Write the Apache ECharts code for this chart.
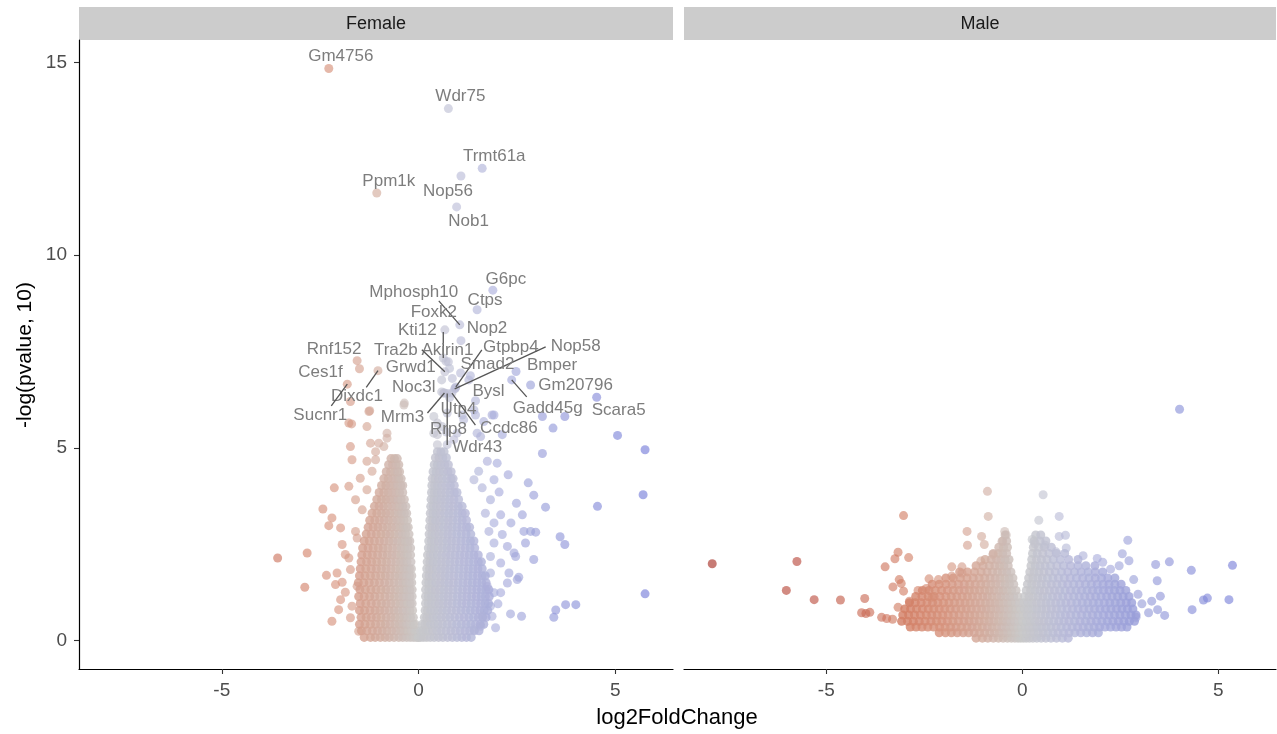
<!DOCTYPE html>
<html><head><meta charset="utf-8">
<script src="https://cdn.jsdelivr.net/npm/echarts@6/dist/echarts.min.js"></script>
<style>html,body{margin:0;padding:0;background:#fff}#c{width:1277px;height:734px}</style>
</head><body><div id="c"></div><script>
// ---------------- DATA ----------------
const panels = ['Female', 'Male'];
const xTicks = [-5, 0, 5];
const yTicks = [0, 5, 10, 15];
const xRange = [-8.63, 6.47];
const yRange = [-0.74, 15.58];
const xTitle = 'log2FoldChange';
const yTitle = '-log(pvalue, 10)';

// labelled genes (Female panel)
const femaleGenes = ['Gm4756','Wdr75','Trmt61a','Nop56','Ppm1k','Nob1','G6pc','Ctps','Mphosph10','Foxk2','Nop2','Kti12','Akirin1','Tra2b','Gtpbp4','Nop58','Smad2','Bmper','Gm20796','Gadd45g','Bysl','Scara5','Grwd1','Noc3l','Utp4','Mrm3','Ccdc86','Wdr43','Rrp8','Dixdc1','Sucnr1','Ces1f','Rnf152'];
const femaleGeneX = [-2.28,0.76,1.62,1.08,-1.06,0.97,1.89,1.49,1.05,0.67,1.08,0.63,0.76,0.67,0.95,0.92,1.32,2.48,2.85,2.37,1.45,4.53,0.59,0.59,0.79,0.66,0.85,0.73,0.71,-1.03,-1.81,-1.50,-1.56];
const femaleGeneY = [14.84,13.80,12.25,12.05,11.61,11.25,9.09,8.58,8.19,8.06,7.78,7.33,7.23,6.97,6.58,6.53,6.87,6.98,6.63,6.76,6.22,6.31,6.76,6.45,6.30,6.42,6.42,6.41,5.41,7.00,6.65,7.05,7.26];

// isolated / sparse points (Female)
const femaleSparse = [
[-3.58,2.14],[-2.83,2.27],[-2.89,1.38],[-2.20,0.50],[-2.43,3.41],[-2.14,3.96],[-1.77,4.00],[-1.73,5.03],[-1.69,4.69],[-1.48,4.21],
[-1.94,2.49],[-2.34,1.69],[-2.20,3.18],[-2.28,2.98],[-1.60,3.65],[-1.98,2.92],[-1.86,2.23],[-2.11,1.45],[-1.98,1.06],[-2.03,0.80],
[-1.73,0.59],[-1.52,0.24],[-1.69,0.89],[-1.31,5.55],[-1.26,5.94],[-0.80,5.25],[-1.01,5.12],[-1.09,4.69],[-1.73,6.20],[-1.24,5.96],
[-1.70,5.62],[-0.36,6.16],[-2.07,1.75],[-1.94,1.51],[-1.86,1.25],[-1.56,1.41],[-1.73,1.84],[-1.77,2.14],[-1.56,2.66],[-1.60,2.83],
[-1.43,3.39],[-1.31,3.91],[-1.18,4.39],[-1.31,4.65],[-1.09,4.90],[-0.88,5.03],[-1.22,5.12],[-0.80,5.38],[-0.37,6.11],[-1.77,5.64],
[5.76,4.95],[5.71,3.78],[4.55,3.48],[5.76,1.21],[3.74,0.93],[4.00,0.93],[3.49,0.79],[3.44,0.60],[2.34,0.69],[2.62,0.63],
[3.60,2.69],[3.72,2.49],[3.23,3.46],[2.93,3.77],[2.79,4.09],[2.28,4.30],[2.00,4.60],[5.06,5.32],[3.42,5.51],[3.15,5.81],
[3.72,5.81],[2.49,3.56],[2.64,3.26],[2.68,2.83],[2.98,2.81],[2.72,2.53],[2.47,2.18],[2.93,2.10],[2.30,1.75],[2.55,1.64],
[2.09,1.24],[1.87,0.63],[1.96,0.33],[1.92,5.85],[1.53,4.39],[1.75,4.65],[1.41,4.17],[1.92,4.17],[1.62,3.96],[1.83,3.65],
[2.09,3.26],[1.92,3.05],[1.79,2.83],[2.13,2.75],[1.92,2.53],[2.26,2.44],[1.83,2.18],[2.09,2.01],[1.83,1.75],[2.26,1.49],
[1.92,1.24],[1.83,0.89],[1.62,0.63],[1.41,0.28],[1.58,0.37],[2.43,2.27],[2.85,2.83],[2.51,1.58],[1.49,5.38],[1.41,5.98],
[1.87,5.85],[1.11,5.85],[0.98,5.38],[0.73,5.08],[0.48,5.08],[0.39,5.38],[0.60,5.55],[0.39,5.81],[0.86,6.80],[0.64,6.42],
[0.94,6.55],[1.07,6.94],[0.70,7.24],[0.79,7.06],[1.28,6.76],[0.73,5.90],[0.48,5.64],[1.15,5.73],[1.45,5.85],[0.48,5.34],
[0.90,5.21],[1.58,5.29],[2.13,5.34],[1.66,5.68],[3.15,4.85],[2.35,3.05],[2.05,3.85],[1.70,3.30],[1.75,1.40],[2.02,0.95]
];

// dense cloud, Female, red lobe: [y, x, x, ...]
const femaleLeftRows = [
[0.08,-1.38,-1.22,-1.1,-0.97,-0.85,-0.74,-0.62,-0.5,-0.4,-0.3,-0.21,-0.13,-0.06,-0.01],
[0.25,-1.45,-1.31,-1.17,-1.04,-0.92,-0.8,-0.68,-0.57,-0.46,-0.36,-0.27,-0.18,-0.1,-0.04],
[0.42,-1.5,-1.36,-1.22,-1.09,-0.96,-0.84,-0.72,-0.6,-0.49,-0.39,-0.3,-0.21,-0.13,-0.08],
[0.6,-1.46,-1.33,-1.2,-1.07,-0.95,-0.82,-0.7,-0.59,-0.48,-0.38,-0.29,-0.2,-0.13],
[0.78,-1.5,-1.37,-1.23,-1.1,-0.98,-0.86,-0.74,-0.62,-0.51,-0.4,-0.3,-0.22,-0.15],
[0.96,-1.48,-1.34,-1.2,-1.07,-0.94,-0.82,-0.7,-0.58,-0.47,-0.37,-0.28,-0.21,-0.16],
[1.14,-1.52,-1.38,-1.24,-1.11,-0.98,-0.85,-0.73,-0.61,-0.5,-0.39,-0.3,-0.22,-0.16],
[1.32,-1.49,-1.35,-1.21,-1.08,-0.95,-0.83,-0.71,-0.59,-0.48,-0.38,-0.29,-0.22,-0.16],
[1.5,-1.53,-1.39,-1.25,-1.12,-0.99,-0.86,-0.74,-0.62,-0.5,-0.4,-0.31,-0.23,-0.17],
[1.68,-1.5,-1.36,-1.22,-1.09,-0.96,-0.84,-0.72,-0.6,-0.49,-0.39,-0.3,-0.23,-0.17],
[1.86,-1.48,-1.34,-1.2,-1.07,-0.94,-0.82,-0.7,-0.58,-0.47,-0.37,-0.29,-0.23,-0.18],
[2.04,-1.46,-1.32,-1.19,-1.06,-0.93,-0.81,-0.69,-0.57,-0.46,-0.37,-0.29,-0.19],
[2.22,-1.44,-1.3,-1.17,-1.04,-0.91,-0.79,-0.67,-0.56,-0.45,-0.36,-0.28,-0.2],
[2.4,-1.42,-1.28,-1.15,-1.02,-0.9,-0.78,-0.66,-0.55,-0.44,-0.35,-0.27,-0.2],
[2.58,-1.38,-1.25,-1.12,-0.99,-0.87,-0.75,-0.64,-0.53,-0.43,-0.34,-0.27,-0.22],
[2.76,-1.33,-1.2,-1.07,-0.95,-0.83,-0.72,-0.61,-0.5,-0.41,-0.33,-0.24],
[2.94,-1.28,-1.15,-1.03,-0.91,-0.79,-0.68,-0.57,-0.47,-0.38,-0.31,-0.26],
[3.12,-1.24,-1.11,-0.99,-0.87,-0.76,-0.65,-0.54,-0.45,-0.37,-0.28],
[3.3,-1.18,-1.06,-0.94,-0.83,-0.72,-0.61,-0.51,-0.43,-0.36,-0.3],
[3.48,-1.12,-1.0,-0.89,-0.78,-0.67,-0.57,-0.48,-0.4,-0.32],
[3.66,-1.06,-0.94,-0.83,-0.72,-0.62,-0.52,-0.44,-0.36],
[3.84,-1.0,-0.88,-0.77,-0.67,-0.57,-0.48,-0.4],
[4.02,-0.94,-0.83,-0.72,-0.62,-0.53,-0.45,-0.4],
[4.2,-0.88,-0.77,-0.67,-0.57,-0.5,-0.44],
[4.38,-0.82,-0.71,-0.61,-0.53,-0.48],
[4.56,-0.76,-0.66,-0.57,-0.5],
[4.72,-0.7,-0.61,-0.54]
];

// dense cloud, Female, blue lobe
const femaleRightRows = [
[0.08,0.01,0.06,0.13,0.21,0.3,0.4,0.51,0.62,0.74,0.86,0.98,1.1,1.22,1.34],
[0.25,0.05,0.11,0.18,0.26,0.36,0.47,0.58,0.7,0.82,0.94,1.06,1.18,1.3,1.42,1.54],
[0.42,0.1,0.16,0.23,0.31,0.4,0.5,0.61,0.73,0.85,0.97,1.09,1.21,1.33,1.45,1.57,1.66],
[0.6,0.15,0.21,0.28,0.37,0.47,0.58,0.69,0.8,0.92,1.04,1.16,1.28,1.4,1.52,1.63,1.72],
[0.78,0.17,0.23,0.31,0.4,0.5,0.61,0.72,0.84,0.96,1.08,1.2,1.32,1.44,1.56,1.67,1.76],
[0.96,0.18,0.25,0.33,0.42,0.52,0.63,0.74,0.86,0.98,1.1,1.22,1.34,1.46,1.58,1.69,1.78],
[1.14,0.18,0.25,0.33,0.42,0.53,0.64,0.75,0.87,0.99,1.11,1.23,1.35,1.47,1.59,1.7,1.8],
[1.32,0.18,0.26,0.34,0.43,0.54,0.65,0.76,0.88,1.0,1.12,1.24,1.36,1.48,1.6,1.71,1.79],
[1.5,0.19,0.26,0.34,0.44,0.55,0.66,0.77,0.89,1.01,1.13,1.25,1.37,1.49,1.61,1.72],
[1.68,0.2,0.27,0.35,0.45,0.56,0.67,0.78,0.9,1.02,1.14,1.26,1.38,1.5,1.62,1.7],
[1.86,0.21,0.28,0.36,0.46,0.57,0.68,0.79,0.91,1.03,1.15,1.27,1.39,1.51,1.62],
[2.04,0.22,0.29,0.37,0.47,0.58,0.69,0.8,0.92,1.04,1.16,1.28,1.4,1.52,1.6],
[2.22,0.23,0.3,0.38,0.48,0.59,0.7,0.81,0.93,1.05,1.17,1.29,1.41,1.52],
[2.4,0.25,0.32,0.4,0.5,0.61,0.72,0.83,0.95,1.07,1.19,1.31,1.43],
[2.58,0.26,0.33,0.41,0.51,0.62,0.73,0.84,0.96,1.08,1.2,1.32,1.41],
[2.76,0.27,0.34,0.42,0.52,0.63,0.74,0.85,0.97,1.09,1.21,1.33],
[2.94,0.28,0.35,0.43,0.53,0.64,0.75,0.86,0.98,1.1,1.22,1.3],
[3.12,0.29,0.36,0.44,0.54,0.65,0.76,0.87,0.99,1.11,1.22],
[3.3,0.3,0.37,0.45,0.55,0.66,0.77,0.88,1.0,1.11,1.19],
[3.48,0.31,0.38,0.46,0.56,0.67,0.78,0.89,1.01,1.11],
[3.66,0.32,0.39,0.47,0.57,0.68,0.79,0.9,1.02],
[3.84,0.33,0.4,0.48,0.58,0.69,0.8,0.91,0.98],
[4.02,0.34,0.41,0.49,0.59,0.7,0.81,0.91],
[4.2,0.35,0.42,0.51,0.61,0.72,0.83,0.88],
[4.38,0.37,0.45,0.54,0.64,0.75,0.83],
[4.56,0.4,0.48,0.57,0.67,0.76],
[4.74,0.43,0.52,0.62,0.71],
[4.9,0.48,0.57,0.65]
];

// isolated / sparse points (Male)
const maleSparse = [
[-7.91,1.99],[-5.75,2.05],[-6.02,1.30],[-5.31,1.06],[-4.64,1.05],[-4.02,1.09],[-4.10,0.72],[-3.99,0.70],[-3.89,0.73],[-3.59,0.60],
[-3.46,0.57],[-3.31,0.55],[-3.03,3.24],[-3.17,2.29],[-3.25,2.12],[-2.90,2.15],[-3.50,1.91],[-3.14,1.58],[-3.09,1.48],[-3.30,1.39],
[-3.03,1.28],[-3.17,0.86],[-2.88,1.02],[-2.66,1.30],[-2.38,1.60],[-2.14,1.58],[-1.80,1.91],[-1.54,1.91],[-1.41,2.83],[-1.40,2.47],
[-0.89,3.87],[-0.87,3.22],[-1.04,2.70],[-0.97,2.49],[-0.45,2.83],[-0.52,2.57],[-0.41,2.74],[-0.75,2.23],[-1.06,2.06],[-1.80,1.67],
[-1.54,1.75],[0.53,3.78],[0.42,3.12],[0.94,3.22],[0.25,2.62],[0.32,2.51],[0.58,2.47],[0.94,2.70],[1.10,2.73],[1.12,2.40],
[0.86,2.30],[2.69,2.60],[1.91,2.13],[2.05,2.03],[2.55,2.25],[2.47,1.94],[2.72,2.07],[3.40,1.97],[3.75,2.04],[4.31,1.82],
[5.36,1.95],[4.01,6.00],[3.44,1.55],[3.52,1.15],[3.30,1.02],[3.45,0.80],[3.63,0.65],[3.22,0.72],[4.33,0.80],[4.62,1.05],
[4.72,1.10],[5.27,1.06],[2.84,1.58],[2.95,1.20],[3.05,0.95],[2.90,0.60],[-2.45,1.35],[-2.30,1.12],[1.55,2.20],[2.25,1.85]
];

// dense cloud, Male: [y, x, x, ...]
const maleRows = [
[0.06,-1.18,-1.02,-0.88,-0.74,-0.61,-0.49,-0.38,-0.28,-0.19,-0.11,-0.04,0.03,0.1,0.18,0.27,0.37,0.48,0.6,0.73,0.87,1.02,1.17],
[0.2,-2.12,-1.96,-1.81,-1.66,-1.51,-1.37,-1.23,-1.09,-0.96,-0.83,-0.71,-0.59,-0.48,-0.37,-0.27,-0.17,-0.08,0.01,0.1,0.2,0.3,0.41,0.53,0.65,0.78,0.91,1.05,1.19,1.34,1.49,1.64,1.79,1.94],
[0.35,-2.86,-2.71,-2.56,-2.41,-2.26,-2.11,-1.97,-1.83,-1.69,-1.55,-1.41,-1.28,-1.15,-1.02,-0.89,-0.77,-0.65,-0.53,-0.42,-0.31,-0.21,-0.11,-0.02,0.07,0.17,0.27,0.38,0.49,0.61,0.73,0.86,0.99,1.13,1.27,1.41,1.55,1.69,1.83,1.97,2.11,2.25,2.39,2.53,2.67],
[0.5,-3.08,-2.93,-2.78,-2.63,-2.48,-2.33,-2.19,-2.05,-1.91,-1.77,-1.63,-1.49,-1.36,-1.23,-1.1,-0.97,-0.85,-0.73,-0.61,-0.5,-0.39,-0.29,-0.19,-0.09,0.01,0.11,0.21,0.32,0.43,0.55,0.67,0.8,0.93,1.06,1.19,1.33,1.47,1.61,1.75,1.89,2.03,2.17,2.31,2.45,2.59,2.73,2.86],
[0.66,-3.05,-2.9,-2.75,-2.6,-2.45,-2.31,-2.17,-2.03,-1.89,-1.75,-1.61,-1.47,-1.34,-1.21,-1.08,-0.95,-0.83,-0.71,-0.59,-0.48,-0.37,-0.27,-0.17,-0.07,0.03,0.13,0.24,0.35,0.47,0.59,0.71,0.84,0.97,1.1,1.23,1.37,1.51,1.65,1.79,1.93,2.07,2.21,2.35,2.49,2.63,2.77,2.9],
[0.82,-3.0,-2.85,-2.7,-2.55,-2.4,-2.26,-2.12,-1.98,-1.84,-1.7,-1.56,-1.43,-1.3,-1.17,-1.04,-0.92,-0.8,-0.68,-0.57,-0.46,-0.35,-0.25,-0.15,-0.05,0.05,0.15,0.26,0.37,0.49,0.61,0.74,0.87,1.0,1.14,1.28,1.42,1.56,1.7,1.84,1.98,2.12,2.26,2.4,2.54,2.68,2.82],
[0.98,-2.88,-2.73,-2.58,-2.43,-2.29,-2.15,-2.01,-1.87,-1.73,-1.59,-1.46,-1.33,-1.2,-1.07,-0.94,-0.82,-0.7,-0.59,-0.48,-0.37,-0.27,-0.17,-0.07,0.04,0.14,0.25,0.36,0.48,0.6,0.72,0.85,0.98,1.11,1.25,1.39,1.53,1.67,1.81,1.95,2.09,2.23,2.37,2.51,2.65,2.79],
[1.14,-2.72,-2.56,-2.4,-2.25,-2.1,-1.95,-1.81,-1.67,-1.53,-1.4,-1.27,-1.14,-1.01,-0.89,-0.77,-0.65,-0.54,-0.43,-0.32,-0.22,-0.12,0.06,0.17,0.28,0.4,0.52,0.64,0.77,0.9,1.03,1.17,1.31,1.45,1.59,1.73,1.87,2.01,2.15,2.29,2.43,2.57,2.72],
[1.3,-2.55,-2.38,-2.22,-2.06,-1.91,-1.76,-1.62,-1.48,-1.35,-1.22,-1.09,-0.96,-0.84,-0.72,-0.6,-0.49,-0.38,-0.27,-0.16,0.1,0.21,0.32,0.44,0.56,0.69,0.82,0.95,1.09,1.23,1.37,1.51,1.65,1.79,1.93,2.07,2.21,2.35,2.49,2.64],
[1.46,-2.3,-2.12,-1.95,-1.79,-1.63,-1.48,-1.34,-1.2,-1.06,-0.93,-0.8,-0.68,-0.56,-0.44,-0.33,-0.22,0.13,0.24,0.36,0.48,0.61,0.74,0.88,1.02,1.16,1.31,1.46,1.61,1.76,1.91,2.06,2.21,2.36,2.52],
[1.62,-1.95,-1.76,-1.58,-1.41,-1.25,-1.1,-0.96,-0.82,-0.69,-0.57,-0.45,-0.34,-0.24,0.16,0.27,0.39,0.51,0.64,0.78,0.92,1.07,1.22,1.38,1.54,1.7,1.86,2.02,2.18,2.36],
[1.78,-1.6,-1.4,-1.22,-1.05,-0.9,-0.76,-0.63,-0.51,-0.4,-0.29,0.19,0.3,0.42,0.55,0.69,0.84,1.0,1.16,1.33,1.5,1.68,1.86,2.05],
[1.94,-1.18,-1.0,-0.84,-0.7,-0.58,-0.47,-0.36,0.22,0.33,0.45,0.58,0.72,0.88,1.05,1.23,1.42,1.62,1.85],
[2.1,-0.95,-0.79,-0.66,-0.55,-0.44,-0.34,0.24,0.36,0.49,0.63,0.79,0.97,1.18,1.42],
[2.26,-0.74,-0.61,-0.5,-0.4,0.26,0.38,0.52,0.68,0.87,1.08],
[2.42,-0.6,-0.48,-0.38,0.28,0.41,0.56,0.74],
[2.58,-0.5,-0.4,0.3,0.45,0.6],
[2.74,-0.44,0.34,0.47]
];

// ---------------- STYLE / LAYOUT ----------------
const FONT = '"Liberation Sans", Arial, Helvetica, sans-serif';
const colorStops = [[-7.9,[165,42,32]],[-5,[191,80,64]],[-3,[210,126,100]],[-2,[214,146,124]],[-1,[210,170,156]],[0,[200,200,200]],[1,[185,187,215]],[2,[167,171,219]],[3.5,[143,149,216]],[5.8,[113,121,216]]];
function colorFor(x) {
  if (x <= colorStops[0][0]) return 'rgb(' + colorStops[0][1].join(',') + ')';
  for (let i = 1; i < colorStops.length; i++) {
    const a = colorStops[i - 1], b = colorStops[i];
    if (x <= b[0]) {
      const t = (x - a[0]) / (b[0] - a[0]);
      const c = a[1].map((v, k) => Math.round(v + (b[1][k] - v) * t));
      return 'rgb(' + c.join(',') + ')';
    }
  }
  return 'rgb(' + colorStops[colorStops.length - 1][1].join(',') + ')';
}
// label placement (pixel offsets from the point): [dx, dy, segEndDx, segEndDy]
const labelLayout = {
  Gm4756:[12,-12], Wdr75:[12,-12], Trmt61a:[12,-12], Nop56:[-13,15], Ppm1k:[12,-12], Nob1:[12,14],
  G6pc:[13,-11], Ctps:[8,-9], Mphosph10:[-46,-33,-21,-24], Foxk2:[-11,-18], Nop2:[26,-12],
  Kti12:[-26,-28,0,-26], Akirin1:[-1,-12], Tra2b:[-49,-22,-23,-22], Gtpbp4:[55,-40,26,-37],
  Nop58:[121,-42,91,-42], Smad2:[17,-11], Bmper:[36,-6], Gm20796:[45,0], Gadd45g:[36,28,15,17],
  Bysl:[13,-9], Scara5:[22,13], Grwd1:[-31,-13], Noc3l:[-28,-5], Utp4:[9,12], Mrm3:[-42,24,-17,20],
  Ccdc86:[57,35,23.5,32], Wdr43:[30,54,0,51.5], Rrp8:[2,-3], Dixdc1:[-21,26,-11.7,16.6],
  Sucnr1:[-27,31,-16,21.7], Ces1f:[-39,4], Rnf152:[-23,-11]
};

function rowsToPoints(rows) {
  const out = [];
  rows.forEach(r => { for (let i = 1; i < r.length; i++) out.push([r[i], r[0]]); });
  return out;
}
const femaleCloud = rowsToPoints(femaleLeftRows).concat(rowsToPoints(femaleRightRows));
const femaleSingles = femaleSparse.concat(femaleGenes.map((g, i) => [femaleGeneX[i], femaleGeneY[i]]));
const maleCloud = rowsToPoints(maleRows);

const grids = [
  {left: 79, top: 40, width: 594, height: 629},
  {left: 684, top: 40, width: 592, height: 629}
];

const chart = echarts.init(document.getElementById('c'), null, {renderer: 'canvas'});
function scatter(gi, data, opacity) {
  return {
    type: 'scatter', xAxisIndex: gi, yAxisIndex: gi, data: data,
    symbolSize: 9, silent: true, progressive: 0, animation: false,
    itemStyle: {color: p => colorFor(p.value[0]), opacity: opacity}
  };
}
chart.setOption({
  animation: false,
  backgroundColor: '#ffffff',
  grid: grids,
  xAxis: grids.map((g, i) => ({
    gridIndex: i, type: 'value', min: xRange[0], max: xRange[1],
    axisLine: {show: true, onZero: false, lineStyle: {color: '#000', width: 1.2}},
    axisTick: {show: true, length: 5, customValues: xTicks, lineStyle: {color: '#333', width: 1.1}},
    axisLabel: {customValues: xTicks, color: '#4d4d4d', fontSize: 19, fontFamily: FONT, margin: 12},
    splitLine: {show: false}
  })),
  yAxis: grids.map((g, i) => ({
    gridIndex: i, type: 'value', min: yRange[0], max: yRange[1],
    axisLine: {show: i === 0, onZero: false, lineStyle: {color: '#000', width: 1.2}},
    axisTick: {show: i === 0, length: 5, customValues: yTicks, lineStyle: {color: '#333', width: 1.1}},
    axisLabel: {show: i === 0, customValues: yTicks, color: '#4d4d4d', fontSize: 19, fontFamily: FONT, margin: 12},
    splitLine: {show: false}
  })),
  graphic: [
    ...grids.map((g, i) => ({
      type: 'rect', shape: {x: g.left, y: 7, width: g.width, height: 33}, style: {fill: '#cccccc'}, silent: true
    })),
    ...grids.map((g, i) => ({
      type: 'text', x: g.left + g.width / 2, y: 24,
      style: {text: panels[i], fill: '#1a1a1a', font: '18px ' + FONT, align: 'center', verticalAlign: 'middle'}, silent: true
    })),
    {type: 'text', x: 677, y: 718, style: {text: xTitle, fill: '#000', font: '22px ' + FONT, align: 'center', verticalAlign: 'middle'}},
    {type: 'text', x: 25, y: 355, rotation: Math.PI / 2, style: {text: yTitle, fill: '#000', font: '21px ' + FONT, align: 'center', verticalAlign: 'middle'}}
  ],
  series: [
    scatter(0, femaleCloud, 0.8),
    scatter(0, femaleSingles, 0.62),
    scatter(1, maleCloud, 0.8),
    scatter(1, maleSparse, 0.62),
    {
      type: 'custom', xAxisIndex: 0, yAxisIndex: 0, z: 10, silent: true,
      data: femaleGenes.map((g, i) => [femaleGeneX[i], femaleGeneY[i], i]),
      renderItem: function (params, api) {
        const g = femaleGenes[api.value(2)];
        const p = api.coord([api.value(0), api.value(1)]);
        const L = labelLayout[g];
        const children = [];
        if (L.length > 2) {
          children.push({type: 'line', shape: {x1: p[0], y1: p[1], x2: p[0] + L[2], y2: p[1] + L[3]},
            style: {stroke: '#555555', lineWidth: 1.3}});
        }
        children.push({type: 'text', x: p[0] + L[0], y: p[1] + L[1],
          style: {text: g, fill: '#7d7d7d', font: '17px ' + FONT, align: 'center', verticalAlign: 'middle'}});
        return {type: 'group', children: children};
      }
    }
  ]
});
</script></body></html>
